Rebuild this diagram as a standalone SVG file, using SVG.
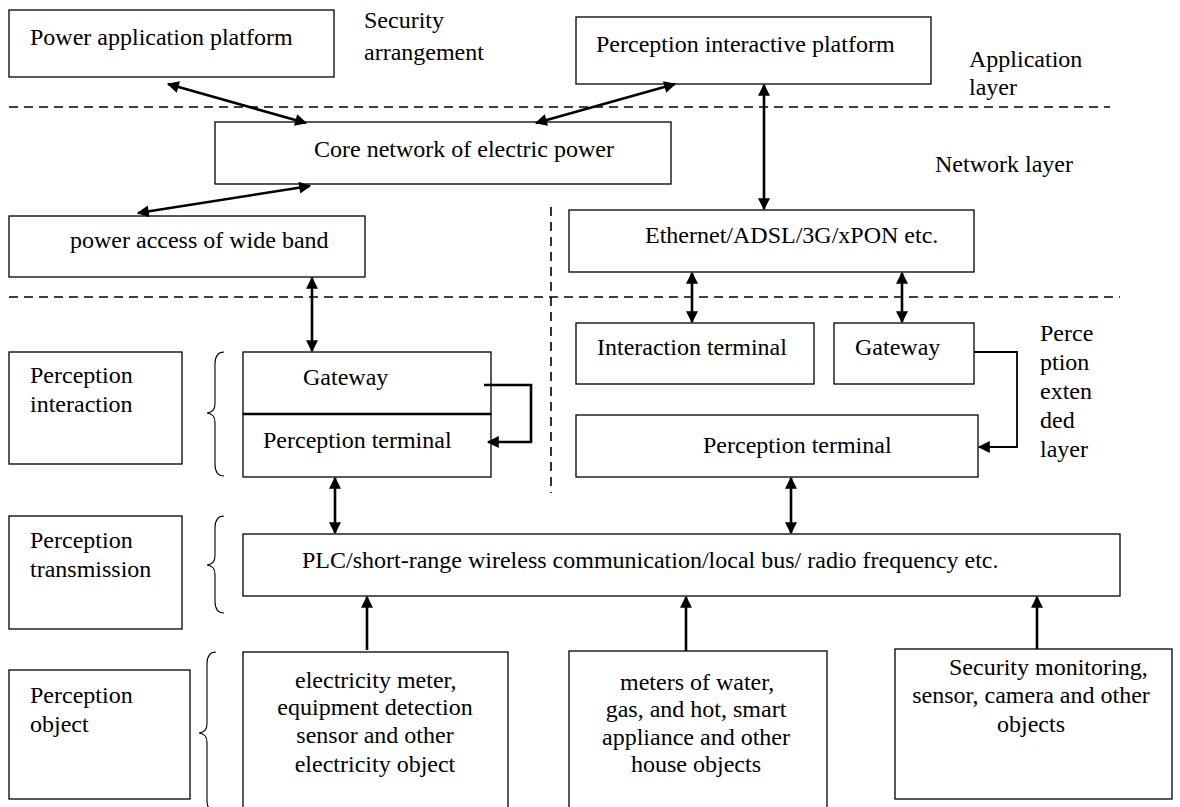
<svg xmlns="http://www.w3.org/2000/svg" width="1180" height="807" viewBox="0 0 1180 807">
<defs>
<style>
.box{fill:#fff;stroke:#000;stroke-width:1.3}
.t{font-family:"Liberation Serif","Times New Roman",serif;font-size:24px;fill:#000}
.c{text-anchor:middle}
.dash{stroke:#000;stroke-width:1.6;stroke-dasharray:9 6;fill:none}
.arr{stroke:#000;stroke-width:2.6;fill:none}
.brace{stroke:#000;stroke-width:1.1;fill:none}
</style>
<marker id="ah" viewBox="0 0 10 10" refX="9" refY="5" markerUnits="userSpaceOnUse" markerWidth="15" markerHeight="12" orient="auto-start-reverse">
<path d="M0,0 L10,5 L0,10 z" fill="#000"/>
</marker>
</defs>
<rect width="1180" height="807" fill="#fff"/>

<g id="layers">
<line class="dash" x1="9" y1="107" x2="1110" y2="107"/>
<line class="dash" x1="9" y1="297" x2="1120" y2="297"/>
<line class="dash" x1="551" y1="207" x2="551" y2="493"/>
<text class="t" x="364" y="28">Security</text>
<text class="t" x="364" y="60">arrangement</text>
<text class="t" x="969" y="67">Application</text>
<text class="t" x="969" y="95">layer</text>
<text class="t" x="935" y="172">Network layer</text>
<text class="t" x="1040" y="341">Perce</text>
<text class="t" x="1040" y="370">ption</text>
<text class="t" x="1040" y="399">exten</text>
<text class="t" x="1040" y="428">ded</text>
<text class="t" x="1040" y="457">layer</text>
</g>

<g id="n-power-app"><rect class="box" x="9" y="10" width="325" height="67"/><text class="t" x="30" y="45">Power application platform</text></g>
<g id="n-perc-platform"><rect class="box" x="576" y="17" width="355" height="67"/><text class="t" x="596" y="52">Perception interactive platform</text></g>
<g id="n-core"><rect class="box" x="215" y="122" width="456" height="62"/><text class="t" x="314" y="157">Core network of electric power</text></g>
<g id="n-access"><rect class="box" x="9" y="216" width="356" height="61"/><text class="t" x="70" y="248">power access of wide band</text></g>
<g id="n-ethernet"><rect class="box" x="569" y="210" width="405" height="62"/><text class="t" x="645" y="243">Ethernet/ADSL/3G/xPON etc.</text></g>

<g id="n-lbl-interaction"><rect class="box" x="9" y="352" width="173" height="112"/><text class="t" x="30" y="383">Perception</text><text class="t" x="30" y="412">interaction</text></g>
<g id="n-lbl-transmission"><rect class="box" x="9" y="516" width="173" height="113"/><text class="t" x="30" y="548">Perception</text><text class="t" x="30" y="577">transmission</text></g>
<g id="n-lbl-object"><rect class="box" x="9" y="670" width="181" height="129"/><text class="t" x="30" y="703">Perception</text><text class="t" x="30" y="732">object</text></g>

<g id="braces">
<path class="brace" d="M224,352 Q215,352 215,364 L215,404 Q215,412 207,413 Q215,414 215,422 L215,464 Q215,476 224,476"/>
<path class="brace" d="M224,516 Q215,516 215,528 L215,556 Q215,564 207,565 Q215,566 215,574 L215,601 Q215,613 224,613"/>
<path class="brace" d="M216,652 Q207,652 207,664 L207,724 Q207,732 199,733 Q207,734 207,742 L207,800 Q207,812 216,812"/>
</g>

<g id="n-gateway-left"><rect class="box" x="243" y="352" width="248" height="62"/><text class="t" x="303" y="385">Gateway</text></g>
<g id="n-pterm-left"><rect class="box" x="243" y="414" width="248" height="63"/><line x1="243" y1="414" x2="491" y2="414" stroke="#000" stroke-width="2.4"/><text class="t" x="263" y="448">Perception terminal</text></g>
<g id="n-interaction-terminal"><rect class="box" x="576" y="323" width="238" height="61"/><text class="t" x="597" y="355">Interaction terminal</text></g>
<g id="n-gateway-right"><rect class="box" x="834" y="323" width="140" height="61"/><text class="t" x="855" y="355">Gateway</text></g>
<g id="n-pterm-right"><rect class="box" x="576" y="415" width="402" height="62"/><text class="t" x="703" y="453">Perception terminal</text></g>
<g id="n-plc"><rect class="box" x="243" y="534" width="877" height="62"/><text class="t" x="302" y="568">PLC/short-range wireless communication/local bus/ radio frequency etc.</text></g>

<g id="n-obj-electric"><rect class="box" x="243" y="652" width="265" height="170"/>
<text class="t" x="295" y="688">electricity meter,</text>
<text class="t c" x="375" y="715">equipment detection</text>
<text class="t c" x="375" y="743">sensor and other</text>
<text class="t c" x="375" y="772">electricity object</text></g>
<g id="n-obj-house"><rect class="box" x="569" y="651" width="258" height="170"/>
<text class="t" x="620" y="690">meters of water,</text>
<text class="t c" x="696" y="717">gas, and hot, smart</text>
<text class="t c" x="696" y="745">appliance and other</text>
<text class="t c" x="696" y="772">house objects</text></g>
<g id="n-obj-security"><rect class="box" x="895" y="649" width="277" height="150"/>
<text class="t" x="949" y="675">Security monitoring,</text>
<text class="t c" x="1031" y="703">sensor, camera and other</text>
<text class="t c" x="1031" y="732">objects</text></g>

<g id="connectors">
<line class="arr" x1="168" y1="84" x2="306" y2="123" marker-start="url(#ah)" marker-end="url(#ah)"/>
<line class="arr" x1="675" y1="84" x2="536" y2="123" marker-start="url(#ah)" marker-end="url(#ah)"/>
<line class="arr" x1="310" y1="186" x2="138" y2="213" marker-start="url(#ah)" marker-end="url(#ah)"/>
<line class="arr" x1="764" y1="85" x2="764" y2="209" marker-start="url(#ah)" marker-end="url(#ah)"/>
<line class="arr" x1="312" y1="278" x2="312" y2="351" marker-start="url(#ah)" marker-end="url(#ah)"/>
<line class="arr" x1="692" y1="273" x2="692" y2="322" marker-start="url(#ah)" marker-end="url(#ah)"/>
<line class="arr" x1="902" y1="273" x2="902" y2="322" marker-start="url(#ah)" marker-end="url(#ah)"/>
<line class="arr" x1="335" y1="478" x2="335" y2="533" marker-start="url(#ah)" marker-end="url(#ah)"/>
<line class="arr" x1="791" y1="478" x2="791" y2="533" marker-start="url(#ah)" marker-end="url(#ah)"/>
<line class="arr" x1="367" y1="650" x2="367" y2="597" marker-end="url(#ah)"/>
<line class="arr" x1="686" y1="651" x2="686" y2="597" marker-end="url(#ah)"/>
<line class="arr" x1="1037" y1="649" x2="1037" y2="597" marker-end="url(#ah)"/>
<polyline class="arr" points="484,385 531,385 531,442 488,442" marker-end="url(#ah)"/>
<polyline class="arr" style="stroke-width:1.8" points="974,352 1017,352 1017,447 979,447" marker-end="url(#ah)"/>
</g>
</svg>
